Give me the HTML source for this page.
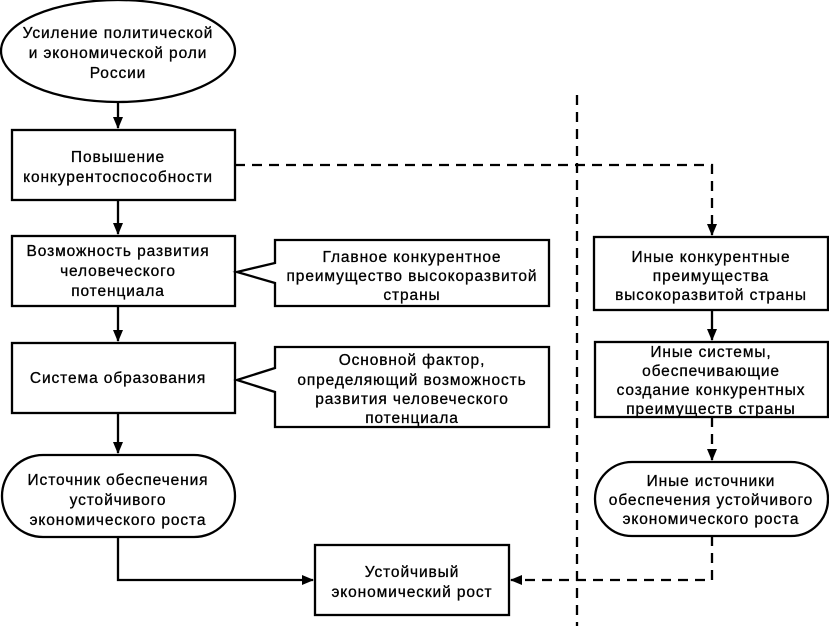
<!DOCTYPE html>
<html><head><meta charset="utf-8"><style>
body{margin:0;background:#fff}
svg text{font-family:"Liberation Sans","DejaVu Sans",sans-serif;font-size:15.5px;letter-spacing:0.9px;fill:#000;stroke:#000;stroke-width:0.3;text-anchor:middle}
</style></head><body>
<svg width="829" height="626" viewBox="0 0 829 626" xmlns="http://www.w3.org/2000/svg">
<defs><marker id="a" markerWidth="12" markerHeight="12" refX="11" refY="6" orient="auto" markerUnits="userSpaceOnUse"><path d="M0,1 L12,6 L0,11 Z" fill="#000"/></marker></defs>
<g fill="none" stroke="#000" stroke-width="2.3">
<ellipse cx="118" cy="51" rx="117" ry="51"/>
<rect x="12" y="130" width="223" height="70"/>
<rect x="12" y="236" width="223" height="70"/>
<rect x="12" y="343" width="223" height="70"/>
<rect x="2" y="455" width="233" height="82" rx="41"/>
<rect x="315" y="545" width="194" height="70"/>
<path d="M275,240 H549 V306 H275 V283 L237,272 L275,263 Z"/>
<path d="M275,347 H549 V427 H275 V392 L237,380 L275,368 Z"/>
<rect x="594" y="237" width="234" height="73"/>
<rect x="595" y="342" width="233" height="75"/>
<rect x="595" y="462" width="233" height="74" rx="37"/>
<path d="M118,103 V128" marker-end="url(#a)"/>
<path d="M118,200 V234" marker-end="url(#a)"/>
<path d="M118,306 V341" marker-end="url(#a)"/>
<path d="M118,413 V453" marker-end="url(#a)"/>
<path d="M118,537 V580 H313" marker-end="url(#a)"/>
<path d="M712,310 V340" marker-end="url(#a)"/>
<g stroke-dasharray="10,7">
<path d="M235,165 H712 V235" marker-end="url(#a)"/>
<path d="M712,417 V460" marker-end="url(#a)"/>
<path d="M712,536 V580 H511" marker-end="url(#a)"/>
<path d="M577,95 V626"/>
</g></g>
<text x="118" y="38">Усиление политической</text>
<text x="118" y="58">и экономической роли</text>
<text x="118" y="78">России</text>
<text x="118" y="162">Повышение</text>
<text x="118" y="182">конкурентоспособности</text>
<text x="118" y="256">Возможность развития</text>
<text x="118" y="276">человеческого</text>
<text x="118" y="296">потенциала</text>
<text x="118" y="383">Система образования</text>
<text x="118" y="485">Источник обеспечения</text>
<text x="118" y="505">устойчивого</text>
<text x="118" y="525">экономического роста</text>
<text x="412" y="577">Устойчивый</text>
<text x="412" y="597">экономический рост</text>
<text x="412" y="262">Главное конкурентное</text>
<text x="412" y="281">преимущество высокоразвитой</text>
<text x="412" y="300">страны</text>
<text x="412" y="365">Основной фактор,</text>
<text x="412" y="385">определяющий возможность</text>
<text x="412" y="404">развития человеческого</text>
<text x="412" y="423">потенциала</text>
<text x="711" y="262">Иные конкурентные</text>
<text x="711" y="281">преимущества</text>
<text x="711" y="300">высокоразвитой страны</text>
<text x="711" y="357">Иные системы,</text>
<text x="711" y="376">обеспечивающие</text>
<text x="711" y="395">создание конкурентных</text>
<text x="711" y="414">преимуществ страны</text>
<text x="711" y="486">Иные источники</text>
<text x="711" y="505">обеспечения устойчивого</text>
<text x="711" y="524">экономического роста</text>
</svg>
</body></html>
